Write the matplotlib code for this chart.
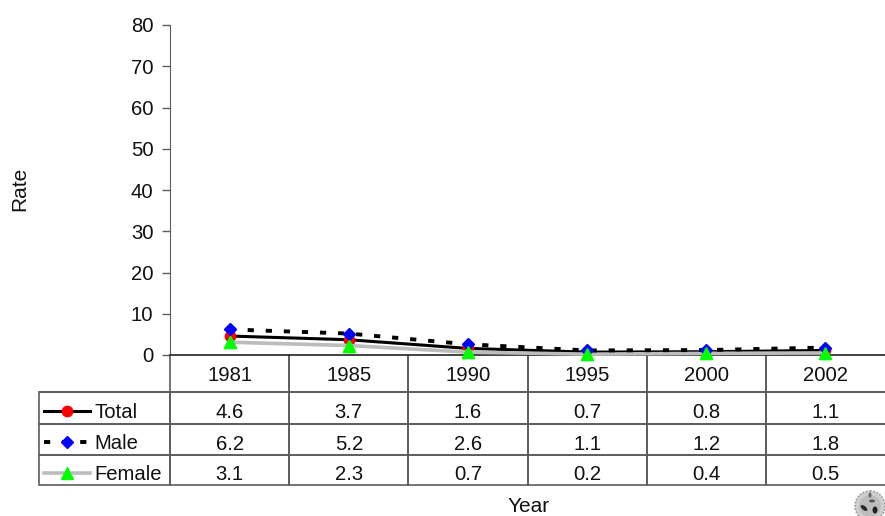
import numpy as np
import matplotlib
matplotlib.use("Agg")
import matplotlib.pyplot as plt
from matplotlib.lines import Line2D
from matplotlib.patches import Circle, Ellipse
from matplotlib.transforms import blended_transform_factory

years = ["1981", "1985", "1990", "1995", "2000", "2002"]
total = [4.6, 3.7, 1.6, 0.7, 0.8, 1.1]
male = [6.2, 5.2, 2.6, 1.1, 1.2, 1.8]
female = [3.1, 2.3, 0.7, 0.2, 0.4, 0.5]
yticks = [0, 10, 20, 30, 40, 50, 60, 70, 80]

W, H = 885, 516
FS = 14.6
EDGE = "#5c5c5c"

plt.rcParams["font.family"] = ["Liberation Sans", "DejaVu Sans"]

def px(x, y):
    return x / W, 1 - y / H

fig = plt.figure(figsize=(W / 100, H / 100), dpi=100)
ax = fig.add_axes([170 / W, (H - 355) / H, 715 / W, 330 / H])

x = np.arange(len(years))
styles = [
    dict(color="black", lw=2.2, ls="-", marker="o", mfc="#ff0000", mec="#ff0000", ms=7.5),
    dict(color="black", lw=2.8, ls=(0, (1.6, 3.05)), marker="D", mfc="#0000ff", mec="#0000ff", ms=6),
    dict(color="#bcbcbc", lw=2.6, ls="-", marker="^", mfc="#00ff00", mec="#00ff00", ms=8),
]
ax.plot(x, total, clip_on=False, zorder=2, **styles[0])
ax.plot(x, female, clip_on=False, zorder=3, **styles[2])
ax.plot(x, male, clip_on=False, zorder=4, **styles[1])
# female markers stay on top like the original
ax.plot(x, female, ls="none", marker="^", mfc="#00ff00", mec="#00ff00", ms=8, clip_on=False, zorder=5)

ax.set_xlim(-0.5, 5.5)
ax.set_ylim(0, 80)
ax.set_yticks(yticks)
ax.set_xticks([])
ax.tick_params(axis="y", labelsize=FS, length=6, width=1, color=EDGE, pad=6, labelcolor="#111111")
for s in ["top", "right"]:
    ax.spines[s].set_visible(False)
ax.spines["left"].set_color(EDGE)
ax.spines["bottom"].set_color("#222222")
ax.spines["bottom"].set_linewidth(1.2)

# data table grid below the axes, text placed separately
col0 = 131
colw = 715 / 6
row_h = [37, 32, 31, 30]
blank = [[""] * 7 for _ in row_h]
tbl = ax.table(cellText=blank, cellLoc="center",
               colWidths=[col0 / 846] + [colw / 846] * 6,
               bbox=[(39 - 170) / 715, -130 / 330, 846 / 715, 130 / 330], zorder=1)
for (r, c), cell in tbl.get_celld().items():
    cell.set_height(row_h[r] / 130)
    cell.set_edgecolor(EDGE)
    cell.set_linewidth(1.2)
    cell.set_facecolor("none")
    if r == 0 and c == 0:
        cell.visible_edges = "B"
    elif r == 0:
        cell.visible_edges = "BLR" if c < 6 else "BL"
    elif c == 6:
        cell.visible_edges = "TBL"

trans = blended_transform_factory(ax.transData, fig.transFigure)
row_text = [(373.5, years),
            (411, [f"{v:.1f}" for v in total]),
            (442, [f"{v:.1f}" for v in male]),
            (473, [f"{v:.1f}" for v in female])]
for yy, labels in row_text:
    for xi, lab in zip(x, labels):
        ax.text(xi, px(0, yy)[1], lab, transform=trans, fontsize=FS, ha="center",
                va="center_baseline", color="#111111", clip_on=False)

# legend keys inside the first column
names = ["Total", "Male", "Female"]
key_y = [410.5, 441.5, 472.5]
for name, yy, st in zip(names, key_y, styles):
    x0, y0 = px(44, yy)
    x1, _ = px(90, yy)
    xm, _ = px(67, yy)
    line_st = {k: st[k] for k in ("color", "lw", "ls")}
    fig.add_artist(Line2D([x0, x1], [y0, y0], transform=fig.transFigure, **line_st))
    fig.add_artist(Line2D([xm], [y0], transform=fig.transFigure, ls="none", marker=st["marker"],
                          mfc=st["mfc"], mec=st["mec"], ms=st["ms"]))
    tx, ty = px(94.5, yy)
    fig.text(tx, ty, name, fontsize=FS, va="center_baseline", ha="left", color="#111111")

fig.text(*px(528.5, 506.5), "Year", fontsize=15, ha="center", va="center", color="#111111")
fig.text(*px(20, 189), "Rate", fontsize=15, rotation=90, ha="center", va="center", color="#111111")

# small grey emblem in the corner
logo = fig.add_axes([852 / W, 0, 33 / W, 28 / H])
logo.set_xlim(852, 885)
logo.set_ylim(516, 488)
logo.axis("off")
logo.add_patch(Circle((870, 506), 15, fc="#cfcfcf", ec="#9a9a9a", lw=1.2, ls=(0, (1, 1))))
logo.add_patch(Circle((870, 506), 11, fc="#bdbdbd", ec="none"))
logo.add_patch(Ellipse((864, 508), 8, 4, angle=40, fc="#2a2a2a", ec="none"))
logo.add_patch(Ellipse((875, 510), 5, 7, fc="#222222", ec="none"))
logo.add_patch(Ellipse((872, 501), 6, 3, fc="#555555", ec="none"))
logo.add_patch(Ellipse((870, 495), 3, 5, fc="#666666", ec="none"))

fig.savefig("out.png", dpi=100)
